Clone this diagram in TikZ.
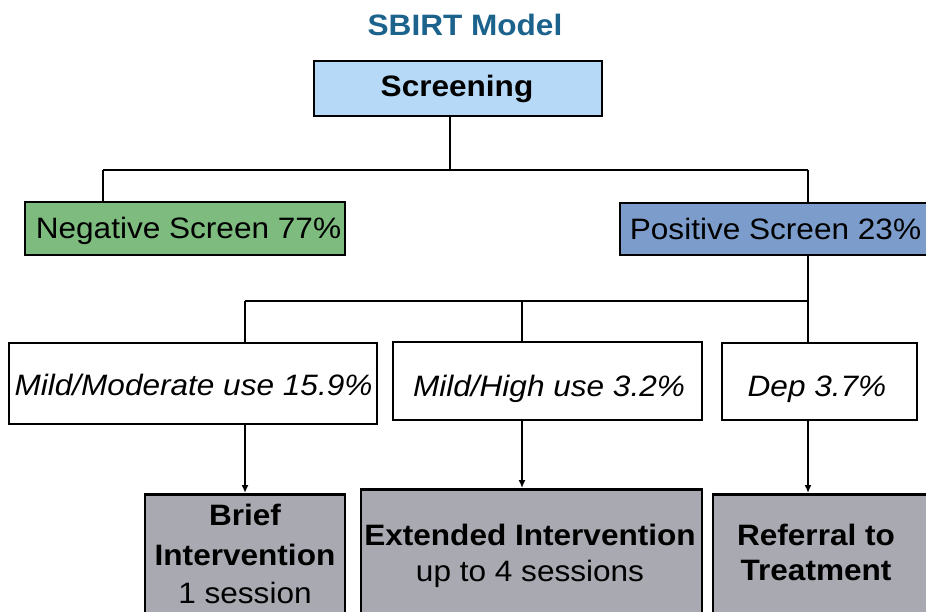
\documentclass[tikz,border=0pt]{standalone}
\usepackage{fontspec}
\setmainfont{Liberation Sans}[FakeStretch=1.07]
\usetikzlibrary{arrows.meta}

\definecolor{titleblue}{RGB}{27,98,140}
\definecolor{screenfill}{RGB}{183,217,248}
\definecolor{negfill}{RGB}{125,187,127}
\definecolor{posfill}{RGB}{124,157,203}
\definecolor{grayfill}{RGB}{168,169,177}

\tikzset{
  box/.style={draw=black, line width=2.5pt, rectangle, inner sep=0pt},
  conn/.style={draw=black, line width=2pt},
  arr/.style={conn, -{Latex[length=8pt,width=7pt]}},
  txt/.style={font=\fontsize{29.5}{36}\selectfont, inner sep=0pt, anchor=base},
  btxt/.style={txt, font=\fontsize{29.5}{36}\selectfont\bfseries},
  itxt/.style={txt, font=\fontsize{29.5}{36}\selectfont\itshape},
}

\begin{document}
\begin{tikzpicture}[x=1pt,y=-1pt]
\useasboundingbox (0,0) rectangle (926,612);
\clip (0,0) rectangle (926,612);
\fill[white] (0,0) rectangle (926,612);

% title
\node[btxt, text=titleblue] (title) at (465,36) {SBIRT Model};

% boxes
\node[box, fill=screenfill, minimum width=288, minimum height=55] (scr) at (458,88.5) {};
\node[box, fill=negfill, minimum width=320, minimum height=53] (neg) at (185,228.5) {};
\node[box, fill=posfill, minimum width=312, minimum height=52] (pos) at (776,229) {};
\node[box, fill=white, minimum width=368, minimum height=81] (mild) at (193,383.5) {};
\node[box, fill=white, minimum width=309, minimum height=78] (high) at (547.5,381) {};
\node[box, fill=white, minimum width=195, minimum height=77] (dep) at (819.5,381.5) {};
\node[box, fill=grayfill, minimum width=200, minimum height=160, anchor=north] (brief) at (245,493) {};
\node[box, fill=grayfill, minimum width=341, minimum height=160, anchor=north] (ext) at (531.5,488) {};
\node[box, fill=grayfill, minimum width=240, minimum height=160, anchor=north] (ref) at (833,493) {};

% box texts
\node[btxt] (scrT) at (457,97) {Screening};
\node[txt] (negT) at (188.5,239) {Negative Screen 77\%};
\node[txt] (posT) at (775.5,240) {Positive Screen 23\%};
\node[itxt] (mildT) at (193.5,395) {Mild/Moderate use 15.9\%};
\node[itxt] (highT) at (549,396) {Mild/High use 3.2\%};
\node[itxt] (depT) at (817,396) {Dep 3.7\%};
\node[btxt] (briefA) at (245,525) {Brief};
\node[btxt] (briefB) at (245,565) {Intervention};
\node[txt] (briefC) at (245,603) {1 session};
\node[btxt] (extA) at (530,545) {Extended Intervention};
\node[txt] (extB) at (530,581) {up to 4 sessions};
\node[btxt] (refA) at (816,545) {Referral to};
\node[btxt] (refB) at (816,580) {Treatment};

% first split
\coordinate (s1) at (450,170);
\coordinate (n1) at (103,170);
\coordinate (p1) at (808,170);
\draw[conn] (s1 |- scr.south) -- (s1);
\draw[conn] (n1) -- (p1);
\draw[conn] (n1) -- (n1 |- neg.north);
\draw[conn] (p1) -- (p1 |- pos.north);

% second split
\coordinate (c1) at (245,301);
\coordinate (c2) at (522,301);
\coordinate (c3) at (808,301);
\draw[conn] (c3 |- pos.south) -- (c3);
\draw[conn] (c1) -- (c3);
\draw[conn] (c1) -- (c1 |- mild.north);
\draw[conn] (c2) -- (c2 |- high.north);
\draw[conn] (c3) -- (c3 |- dep.north);

% arrows to interventions
\draw[arr] (c1 |- mild.south) -- (c1 |- brief.north);
\draw[arr] (c2 |- high.south) -- (c2 |- ext.north);
\draw[arr] (c3 |- dep.south) -- (c3 |- ref.north);
\end{tikzpicture}
\end{document}
